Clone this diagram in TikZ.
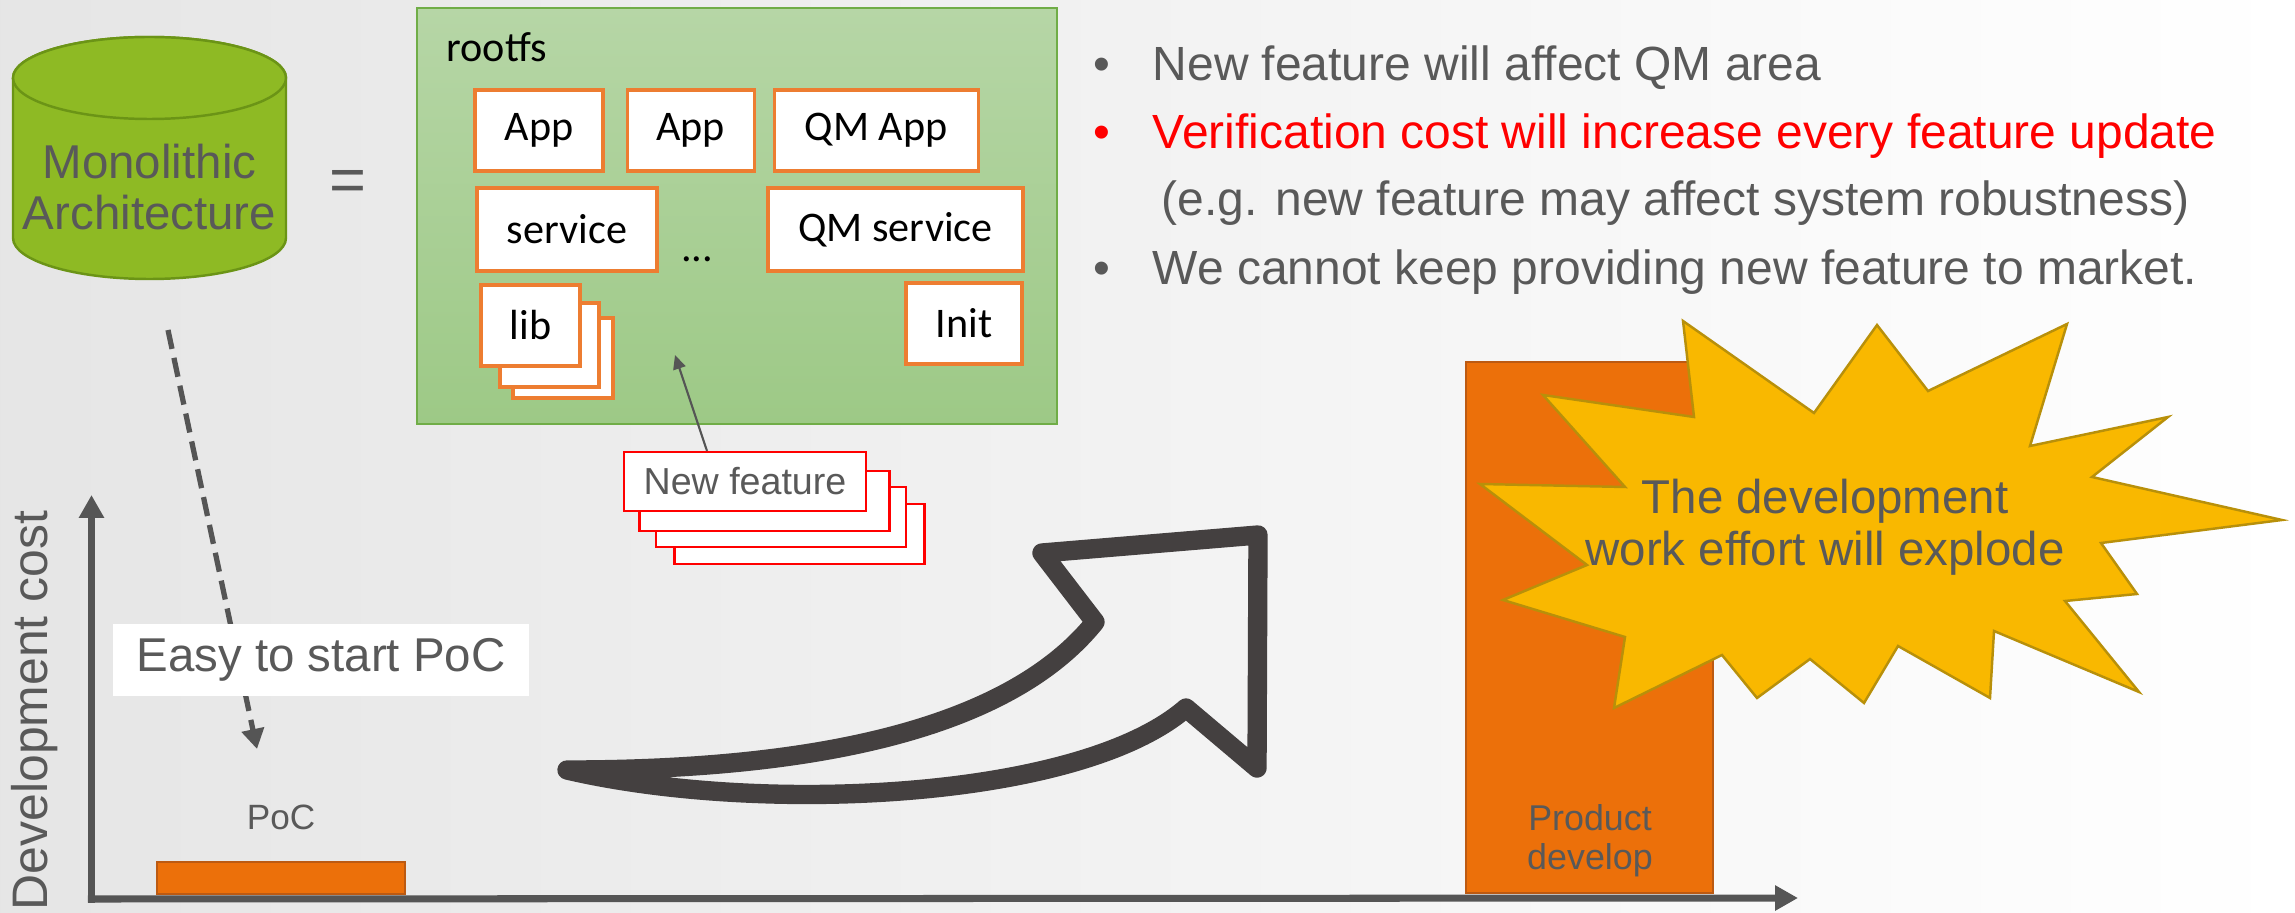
\documentclass[tikz,border=0pt]{standalone}
\usepackage{fontspec}
\setmainfont{Liberation Sans}
\newfontfamily\calibri{Carlito}
\usetikzlibrary{positioning, arrows.meta}

\definecolor{txtgray}{HTML}{595959}
\definecolor{axisgray}{HTML}{555555}
\definecolor{arrowdark}{HTML}{444040}
\definecolor{monogreen}{HTML}{8EBA24}
\definecolor{monoedge}{HTML}{6B9416}
\definecolor{fsgreen}{HTML}{70AD47}
\definecolor{fstop}{HTML}{B6D6A6}
\definecolor{fsbot}{HTML}{9DC986}
\definecolor{compedge}{HTML}{ED7D31}
\definecolor{barorange}{HTML}{EC700A}
\definecolor{baredge}{HTML}{BC5A12}
\definecolor{burstfill}{HTML}{F9B800}
\definecolor{burstedge}{HTML}{B8900A}

\begin{document}
\begin{tikzpicture}[
	graytext/.style={text=txtgray, inner sep=0pt, font=\fontsize{13.5}{15.5}\selectfont},
	bulletline/.style={graytext, anchor=base west, font=\fontsize{13.65}{15.5}\selectfont},
	compbox/.style={draw=compedge, line width=0.9pt, fill=white, inner sep=0pt, minimum height=0.81cm, font=\calibri\fontsize{12}{14}\selectfont},
	featbox/.style={draw=red, line width=0.6pt, fill=white, inner sep=0pt, minimum width=2.5cm, minimum height=0.6cm},
	costbar/.style={draw=baredge, line width=0.5pt, fill=barorange, inner sep=0pt},
	axisline/.style={draw=axisgray, line width=2pt, line cap=rect, -{Triangle[length=6.5pt, width=6.8pt]}},
	dasharrow/.style={draw=axisgray, line width=1.5pt, dash pattern=on 5.5pt off 2.6pt, -{Triangle[length=5.7pt, width=6.3pt]}},
	thinarrow/.style={draw=axisgray, line width=0.6pt, -{Triangle[length=4pt, width=3.6pt]}},
	bigarrow/.style={draw=arrowdark, line width=5.5pt, line join=round},
	burst/.style={draw=burstedge, line width=0.7pt, fill=burstfill}
	]
	\useasboundingbox (0,0) rectangle (22.95,-9.13);
	\shade[left color=black!10, right color=white] (0,0) rectangle (22.95,-9.13);

	% monolithic block
	\path[draw=monoedge, fill=monogreen, line width=0.7pt] (0.13,-0.78) -- (0.13,-2.38) arc[start angle=180, end angle=360, x radius=1.365, y radius=0.41] -- (2.86,-0.78) arc[start angle=0, end angle=180, x radius=1.365, y radius=0.41] -- cycle;
	\draw[draw=monoedge, fill=monogreen, line width=0.7pt] (1.495,-0.78) ellipse[x radius=1.365, y radius=0.41];
	\node[graytext, align=center, font=\fontsize{13.5}{14.5}\selectfont] (mono) at (1.495,-1.875) {Monolithic\\Architecture};
	\node[graytext, font=\fontsize{18}{20}\selectfont] (eq) at (3.48,-1.86) {=};

	% rootfs
	\node[draw=fsgreen, line width=0.6pt, top color=fstop, bottom color=fsbot, minimum width=6.40cm, minimum height=4.16cm, inner sep=0pt] (rootfs) at (7.37,-2.16) {};
	\node[anchor=base west, inner sep=0pt, font=\calibri\fontsize{12}{14}\selectfont] (fslabel) at (4.46,-0.62) {rootfs};
	\node[compbox, minimum width=1.28cm] (app1) at (5.39,-1.305) {App};
	\node[compbox, minimum width=1.27cm, right=0.21cm of app1] (app2) {App};
	\node[compbox, minimum width=2.04cm, right=0.17cm of app2] (qmapp) {QM App};
	\node[compbox, minimum width=1.80cm, minimum height=0.83cm] (svc) at (5.67,-2.295) {service};
	\node[compbox, minimum width=2.55cm, minimum height=0.83cm] (qmsvc) at (8.955,-2.295) {QM service};
	\node[anchor=base, inner sep=0pt, font=\calibri\fontsize{12}{14}\selectfont] (dots) at (6.97,-2.62) {...};
	\node[compbox, minimum width=1.16cm] (init) at (9.64,-3.235) {Init};
	\node[compbox, minimum width=1.00cm, minimum height=0.80cm] (lib3) at (5.63,-3.58) {};
	\node[compbox, minimum width=0.99cm, minimum height=0.84cm] (lib2) at (5.495,-3.45) {};
	\node[compbox, minimum width=0.99cm] (lib1) at (5.305,-3.255) {lib};

	% bullets
	\node[bulletline] (b1) at (10.93,-0.81) {•};
	\node[bulletline] (l1) at (11.52,-0.81) {New feature will affect QM area};
	\node[bulletline, text=red] (b2) at (10.93,-1.49) {•};
	\node[bulletline, text=red] (l2) at (11.52,-1.49) {Verification cost will increase every feature update};
	\node[bulletline] (l3) at (11.61,-2.16) {(e.g. new feature may affect system robustness)};
	\node[bulletline] (b4) at (10.93,-2.85) {•};
	\node[bulletline] (l4) at (11.52,-2.85) {We cannot keep providing new feature to market.};

	% axes
	\coordinate (origin) at (0.915,-8.99);
	\coordinate (yend) at (0.915,-4.95);
	\coordinate (xend) at (17.98,-8.98);
	\draw[axisline] (origin) -- (yend);
	\draw[axisline] (origin) -- (xend);
	\node[graytext, font=\fontsize{14.2}{16}\selectfont, rotate=90, anchor=base east] (ylabel) at (0.47,-5.10) {Development cost};

	% poc
	\coordinate (dashfrom) at (1.68,-3.30);
	\coordinate (dashto) at (2.57,-7.49);
	\draw[dasharrow] (dashfrom) -- (dashto);
	\node[graytext, fill=white, minimum width=4.16cm, minimum height=0.72cm] (easy) at (3.21,-6.60) {Easy to start PoC};
	\node[costbar, minimum width=2.48cm, minimum height=0.32cm] (poc) at (2.81,-8.78) {};
	\node[graytext, font=\fontsize{10}{12}\selectfont] (poclabel) at (2.81,-8.175) {PoC};

	% new feature
	\node[featbox] (nf4) at (7.995,-5.34) {};
	\node[featbox] (nf3) at (7.81,-5.17) {};
	\node[featbox] (nf2) at (7.645,-5.01) {};
	\node[featbox, minimum width=2.42cm, minimum height=0.59cm, text=txtgray, font=\fontsize{10.7}{12}\selectfont] (nf1) at (7.45,-4.815) {New feature};
	\coordinate (fsspot) at (6.75,-3.55);
	\draw[thinarrow] ([xshift=-0.38cm]nf1.north) -- (fsspot);

	% growth arrow
	\draw[bigarrow] (5.67,-7.70) .. controls (7.80,-7.70) and (10.00,-7.40) .. (10.95,-6.22) -- (10.42,-5.53) -- (12.58,-5.35) -- (12.57,-7.68) -- (11.86,-7.08) .. controls (10.80,-8.00) and (7.60,-8.15) .. cycle;

	% product
	\node[costbar, minimum width=2.47cm, minimum height=5.31cm] (prod) at (15.895,-6.275) {};
	\node[graytext, align=center, font=\fontsize{10.2}{11.1}\selectfont] (prodlabel) at (15.90,-8.405) {Product\\develop};
	\draw[burst] (16.83,-3.21) -- (18.14,-4.13) -- (18.77,-3.25) -- (19.28,-3.91) -- (20.67,-3.24) -- (20.30,-4.46) -- (21.68,-4.17) -- (20.92,-4.77) -- (22.82,-5.20) -- (21.01,-5.43) -- (21.37,-5.94) -- (20.65,-6.01) -- (21.39,-6.92) -- (19.94,-6.31) -- (19.90,-6.98) -- (18.98,-6.46) -- (18.64,-7.03) -- (18.10,-6.59) -- (17.57,-6.98) -- (17.22,-6.55) -- (16.14,-7.08) -- (16.25,-6.37) -- (15.03,-6.00) -- (15.87,-5.65) -- (14.80,-4.84) -- (16.25,-4.87) -- (15.43,-3.95) -- (16.94,-4.17) -- cycle;
	\node[graytext, align=center, font=\fontsize{13.5}{14.8}\selectfont] (boomtext) at (18.25,-5.27) {The development\\work effort will explode};
\end{tikzpicture}
\end{document}
